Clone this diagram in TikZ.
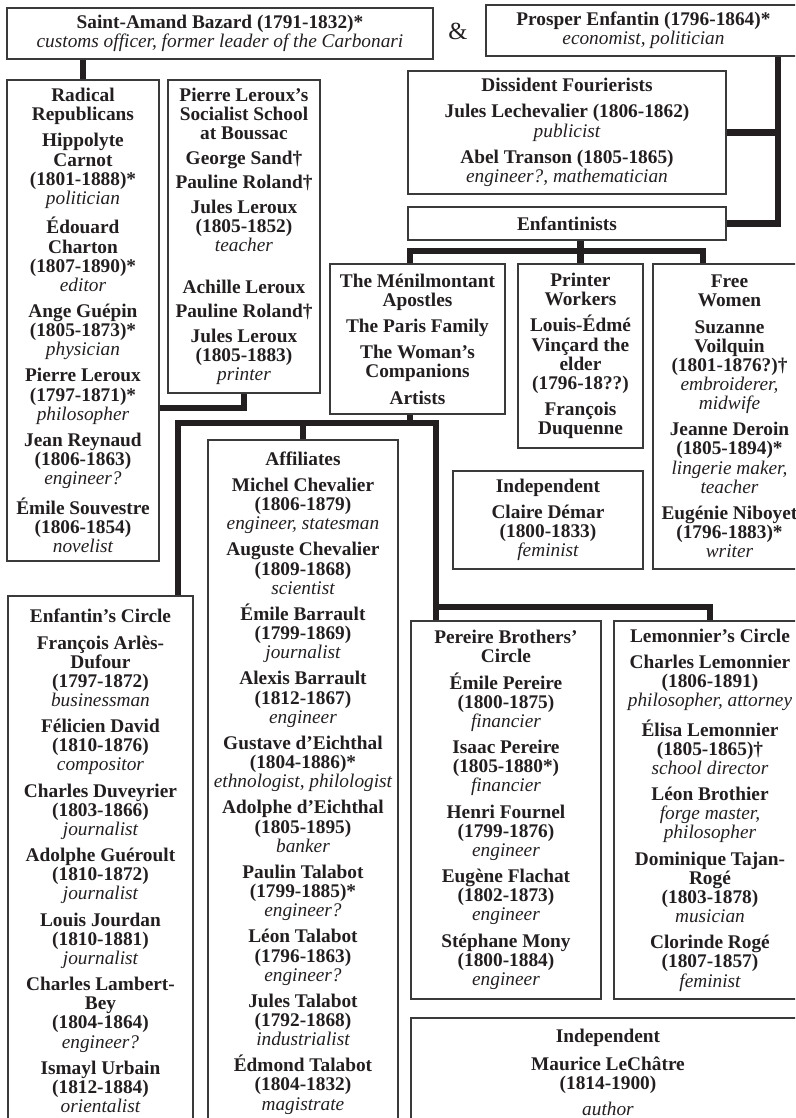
\documentclass[tikz,border=0pt]{standalone}
\usepackage{fontspec}
\setmainfont{Liberation Serif}
\usepackage{tikz}
\usetikzlibrary{calc}
\usepackage{xcolor}
\definecolor{ink}{HTML}{231F20}
\definecolor{boxgrey}{HTML}{3A3A3A}
\newcommand{\occup}[1]{{\mdseries\itshape #1}}
\tikzset{
  grp/.style={draw=boxgrey, line width=1.1pt, text=ink, align=center, inner sep=2pt,
    anchor=north west, font=\fontsize{11}{10.9}\selectfont\bfseries},
  grpbox/.style 2 args={grp, minimum width=#1*0.02cm, minimum height=#2*0.02cm},
  bond/.style={draw=ink, line width=0.13cm},
}

\begin{document}
\begin{tikzpicture}[x=0.02cm, y=-0.02cm]
    \useasboundingbox (0,0) rectangle (795,1118);
    \clip (0,0) rectangle (795,1118);
    % founders
    \node[grpbox={426}{51}] (baz) at (6,7) {Saint-Amand Bazard (1791-1832)*\\ \occup{customs officer, former leader of the Carbonari}};
    \node[font=\fontsize{14}{14}\selectfont, text=ink] (amp) at (458,31) {\&};
    \node[grpbox={315}{51}] (pro) at (485,4) {Prosper Enfantin (1796-1864)*\\ \occup{economist, politician}};
    \node[grpbox={318}{123}] (dis) at (407,70) {Dissident Fourierists\\[4pt]
        Jules Lechevalier (1806-1862)\\ \occup{publicist}\\[4pt]
        Abel Transon (1805-1865)\\ \occup{engineer?, mathematician}};
    \node[grpbox={318}{33}] (enf) at (407,206) {Enfantinists};
    % left column
    \node[grpbox={152}{481}] (rad) at (6,79) {Radical\\Republicans\\[4pt]
        Hippolyte\\Carnot\\(1801-1888)*\\ \occup{politician}\\[4pt]
        Édouard\\Charton\\(1807-1890)*\\ \occup{editor}\\[4pt]
        Ange Guépin\\(1805-1873)*\\ \occup{physician}\\[4pt]
        Pierre Leroux\\(1797-1871)*\\ \occup{philosopher}\\[4pt]
        Jean Reynaud\\(1806-1863)\\ \occup{engineer?}\\[4pt]
        Émile Souvestre\\(1806-1854)\\ \occup{novelist}};
    \node[grpbox={152}{313}] (ler) at (167,79) {Pierre Leroux’s\\Socialist School\\at Boussac\\[3pt]
        George Sand†\\[3pt] Pauline Roland†\\[3pt]
        Jules Leroux\\(1805-1852)\\ \occup{teacher}\\[13pt]
        Achille Leroux\\[3pt] Pauline Roland†\\[3pt]
        Jules Leroux\\(1805-1883)\\ \occup{printer}};
    % Enfantinists' groups
    \node[grpbox={175}{150}] (men) at (329,263) {The Ménilmontant\\Apostles\\[4pt]
        The Paris Family\\[4pt] The Woman’s\\Companions\\[4pt] Artists};
    \node[grpbox={125}{184}] (prt) at (517,263) {Printer\\Workers\\[4pt]
        Louis-Édmé\\Vinçard the\\elder\\(1796-18??)\\[4pt] François\\Duquenne};
    \node[grpbox={153}{305}] (fre) at (652,263) {Free\\Women\\[4pt]
        Suzanne\\Voilquin\\(1801-1876?)†\\ \occup{embroiderer,}\\ \occup{midwife}\\[4pt]
        Jeanne Deroin\\(1805-1894)*\\ \occup{lingerie maker,}\\ \occup{teacher}\\[4pt]
        Eugénie Niboyet\\(1796-1883)*\\ \occup{writer}};
    \node[grpbox={190}{98}] (cde) at (452,470) {Independent\\[4pt]
        Claire Démar\\(1800-1833)\\ \occup{feminist}};
    % lower groups
    \node[grpbox={185}{530}] (ecir) at (7,595) {Enfantin’s Circle\\[4pt]
        François Arlès-\\Dufour\\(1797-1872)\\ \occup{businessman}\\[4pt]
        Félicien David\\(1810-1876)\\ \occup{compositor}\\[4pt]
        Charles Duveyrier\\(1803-1866)\\ \occup{journalist}\\[4pt]
        Adolphe Guéroult\\(1810-1872)\\ \occup{journalist}\\[4pt]
        Louis Jourdan\\(1810-1881)\\ \occup{journalist}\\[4pt]
        Charles Lambert-\\Bey\\(1804-1864)\\ \occup{engineer?}\\[4pt]
        Ismayl Urbain\\(1812-1884)\\ \occup{orientalist}};
    \node[grpbox={190}{686}] (aff) at (207,439) {Affiliates\\[4pt]
        Michel Chevalier\\(1806-1879)\\ \occup{engineer, statesman}\\[4pt]
        Auguste Chevalier\\(1809-1868)\\ \occup{scientist}\\[4pt]
        Émile Barrault\\(1799-1869)\\ \occup{journalist}\\[4pt]
        Alexis Barrault\\(1812-1867)\\ \occup{engineer}\\[4pt]
        Gustave d’Eichthal\\(1804-1886)*\\ \occup{ethnologist, philologist}\\[4pt]
        Adolphe d’Eichthal\\(1805-1895)\\ \occup{banker}\\[4pt]
        Paulin Talabot\\(1799-1885)*\\ \occup{engineer?}\\[4pt]
        Léon Talabot\\(1796-1863)\\ \occup{engineer?}\\[4pt]
        Jules Talabot\\(1792-1868)\\ \occup{industrialist}\\[4pt]
        Édmond Talabot\\(1804-1832)\\ \occup{magistrate}};
    \node[grpbox={190}{378}] (per) at (410,620) {Pereire Brothers’\\Circle\\[4pt]
        Émile Pereire\\(1800-1875)\\ \occup{financier}\\[4pt]
        Isaac Pereire\\(1805-1880*)\\ \occup{financier}\\[4pt]
        Henri Fournel\\(1799-1876)\\ \occup{engineer}\\[4pt]
        Eugène Flachat\\(1802-1873)\\ \occup{engineer}\\[4pt]
        Stéphane Mony\\(1800-1884)\\ \occup{engineer}};
    \node[grpbox={192}{378}] (lem) at (613,620) {Lemonnier’s Circle\\[4pt]
        Charles Lemonnier\\(1806-1891)\\ \occup{philosopher, attorney}\\[4pt]
        Élisa Lemonnier\\(1805-1865)†\\ \occup{school director}\\[4pt]
        Léon Brothier\\ \occup{forge master,}\\ \occup{philosopher}\\[4pt]
        Dominique Tajan-\\Rogé\\(1803-1878)\\ \occup{musician}\\[4pt]
        Clorinde Rogé\\(1807-1857)\\ \occup{feminist}};
    \node[grpbox={394}{109}] (lch) at (410,1017) {Independent\\[5pt]
        Maurice LeChâtre\\(1814-1900)\\[4pt] \occup{author}};
    % connectors
    \coordinate (pspine) at (778,0);
    \coordinate (lbar) at (0,408);
    \coordinate (ebar) at (0,251);
    \coordinate (mbar) at (0,423);
    \coordinate (pbar) at (0,607);
    \coordinate (mstem) at (410,0);
    \coordinate (lstem) at (178,0);
    \coordinate (rstem) at (436,0);
    \coordinate (fre-in) at ($(fre.north west)+(51,0)$);
    \draw[bond] (baz.south -| rad.north) -- (rad.north);
    \draw[bond] (ler.south) |- (lbar -| rad.east);
    \draw[bond] (pro.south -| pspine) |- (enf.east);
    \draw[bond] (dis.east) -- (dis.east -| pspine);
    \draw[bond] (enf.south -| prt.north) -- (prt.north);
    \draw[bond] (men.north -| mstem) |- (ebar -| fre-in) -- (fre-in);
    \draw[bond] (men.south -| mstem) -- (mbar -| mstem);
    \draw[bond] (ecir.north -| lstem) |- (mbar -| rstem) -- (per.north -| rstem);
    \draw[bond] (aff.north) -- (aff.north |- mbar);
    \draw[bond] (pbar -| rstem) -| (lem.north);
\end{tikzpicture}
\end{document}
